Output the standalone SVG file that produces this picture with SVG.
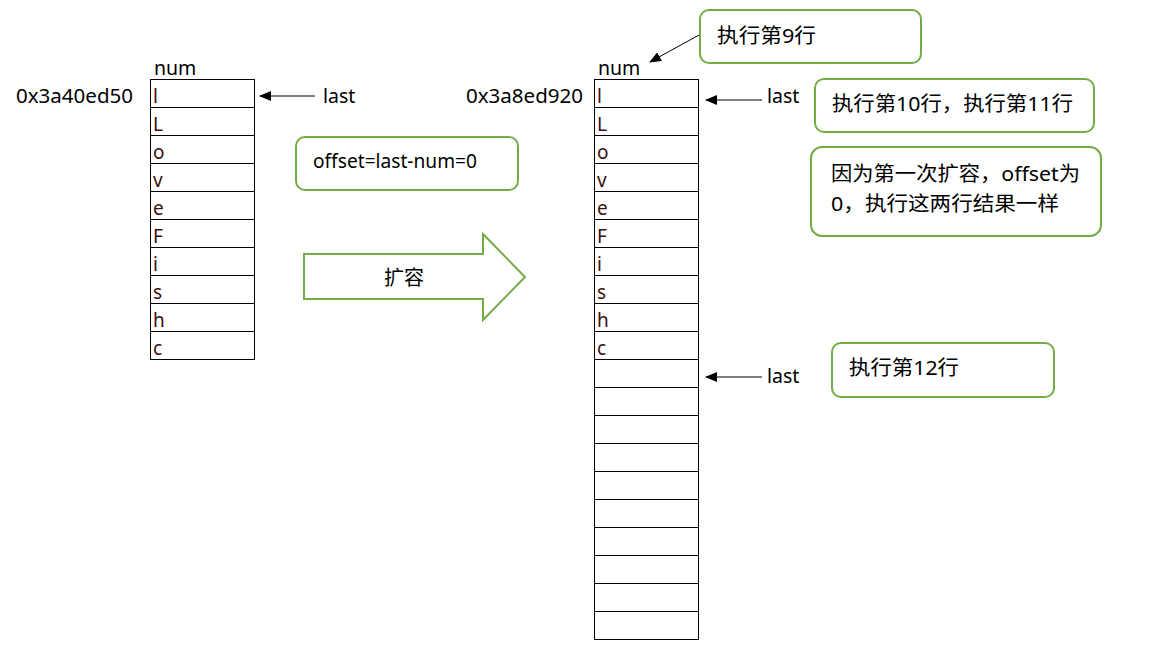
<svg xmlns="http://www.w3.org/2000/svg" width="1166" height="658" viewBox="0 0 1166 658">
<defs>
<marker id="ah" markerWidth="12" markerHeight="10" refX="11" refY="5" orient="auto" markerUnits="userSpaceOnUse">
<path d="M0,0 L12,5 L0,10 Z" fill="#000"/>
</marker>
<style>
text{font-family:"Noto Sans","Noto Sans CJK SC",sans-serif;fill:#000}
.lbl{font-size:19.5px}
.cell{fill:#fff;stroke:#000;stroke-width:1}
.ch{font-size:19px;fill:#3a1010}
.note{fill:#fff;stroke:#70AD47;stroke-width:2}
.nt{font-size:20px}
.conn{stroke:#000;stroke-width:1;fill:none}
</style>
</defs>
<rect width="1166" height="658" fill="#fff"/>

<g id="left-array">
<text class="lbl" x="154" y="75">num</text>
<text class="lbl" x="16" y="103" textLength="117" lengthAdjust="spacingAndGlyphs">0x3a40ed50</text>
<rect class="cell" x="150.5" y="79.5" width="104" height="28"/>
<rect class="cell" x="150.5" y="107.5" width="104" height="28"/>
<rect class="cell" x="150.5" y="135.5" width="104" height="28"/>
<rect class="cell" x="150.5" y="163.5" width="104" height="28"/>
<rect class="cell" x="150.5" y="191.5" width="104" height="28"/>
<rect class="cell" x="150.5" y="219.5" width="104" height="28"/>
<rect class="cell" x="150.5" y="247.5" width="104" height="28"/>
<rect class="cell" x="150.5" y="275.5" width="104" height="28"/>
<rect class="cell" x="150.5" y="303.5" width="104" height="28"/>
<rect class="cell" x="150.5" y="331.5" width="104" height="28"/>
<text class="ch" x="153" y="103">l</text>
<text class="ch" x="153" y="131">L</text>
<text class="ch" x="153" y="159">o</text>
<text class="ch" x="153" y="187">v</text>
<text class="ch" x="153" y="215">e</text>
<text class="ch" x="153" y="243">F</text>
<text class="ch" x="153" y="271">i</text>
<text class="ch" x="153" y="299">s</text>
<text class="ch" x="153" y="327">h</text>
<text class="ch" x="153" y="355">c</text>
</g>

<g id="left-last">
<text class="lbl" x="323" y="103">last</text>
</g>

<g id="offset-note">
<rect class="note" x="296" y="137" width="222" height="53" rx="9"/>
<text class="nt" x="313" y="168" textLength="164" lengthAdjust="spacingAndGlyphs">offset=last-num=0</text>
</g>

<g id="expand-arrow">
<path d="M304,254 L483,254 L483,234 L525,277 L483,320 L483,299 L304,299 Z" fill="#fff" stroke="#70AD47" stroke-width="2"/>
<text class="nt" x="404" y="285" text-anchor="middle">扩容</text>
</g>

<g id="right-array">
<text class="lbl" x="598" y="75">num</text>
<text class="lbl" x="466" y="103" textLength="117" lengthAdjust="spacingAndGlyphs">0x3a8ed920</text>
<rect class="cell" x="594.5" y="79.5" width="104" height="28"/>
<rect class="cell" x="594.5" y="107.5" width="104" height="28"/>
<rect class="cell" x="594.5" y="135.5" width="104" height="28"/>
<rect class="cell" x="594.5" y="163.5" width="104" height="28"/>
<rect class="cell" x="594.5" y="191.5" width="104" height="28"/>
<rect class="cell" x="594.5" y="219.5" width="104" height="28"/>
<rect class="cell" x="594.5" y="247.5" width="104" height="28"/>
<rect class="cell" x="594.5" y="275.5" width="104" height="28"/>
<rect class="cell" x="594.5" y="303.5" width="104" height="28"/>
<rect class="cell" x="594.5" y="331.5" width="104" height="28"/>
<rect class="cell" x="594.5" y="359.5" width="104" height="28"/>
<rect class="cell" x="594.5" y="387.5" width="104" height="28"/>
<rect class="cell" x="594.5" y="415.5" width="104" height="28"/>
<rect class="cell" x="594.5" y="443.5" width="104" height="28"/>
<rect class="cell" x="594.5" y="471.5" width="104" height="28"/>
<rect class="cell" x="594.5" y="499.5" width="104" height="28"/>
<rect class="cell" x="594.5" y="527.5" width="104" height="28"/>
<rect class="cell" x="594.5" y="555.5" width="104" height="28"/>
<rect class="cell" x="594.5" y="583.5" width="104" height="28"/>
<rect class="cell" x="594.5" y="611.5" width="104" height="28"/>
<text class="ch" x="597" y="103">l</text>
<text class="ch" x="597" y="131">L</text>
<text class="ch" x="597" y="159">o</text>
<text class="ch" x="597" y="187">v</text>
<text class="ch" x="597" y="215">e</text>
<text class="ch" x="597" y="243">F</text>
<text class="ch" x="597" y="271">i</text>
<text class="ch" x="597" y="299">s</text>
<text class="ch" x="597" y="327">h</text>
<text class="ch" x="597" y="355">c</text>
</g>

<g id="right-last-1">
<text class="lbl" x="767" y="103">last</text>
</g>
<g id="right-last-2">
<text class="lbl" x="767" y="383">last</text>
</g>

<g id="note-line9">
<rect class="note" x="700" y="10" width="221" height="53" rx="9"/>
<text class="nt" x="717" y="43" textLength="99" lengthAdjust="spacingAndGlyphs">执行第9行</text>
</g>

<g id="note-line10-11">
<rect class="note" x="815" y="79" width="279" height="53" rx="9"/>
<text class="nt" x="832" y="111" textLength="241" lengthAdjust="spacingAndGlyphs">执行第10行，执行第11行</text>
</g>

<g id="note-explain">
<rect class="note" x="811" y="147" width="290" height="89" rx="11"/>
<text class="nt" x="831" y="181" textLength="249" lengthAdjust="spacingAndGlyphs">因为第一次扩容，offset为</text>
<text class="nt" x="831" y="211" textLength="228" lengthAdjust="spacingAndGlyphs">0，执行这两行结果一样</text>
</g>

<g id="note-line12">
<rect class="note" x="832" y="343" width="222" height="54" rx="9"/>
<text class="nt" x="849" y="375" textLength="110" lengthAdjust="spacingAndGlyphs">执行第12行</text>
</g>

<g id="connectors">
<line class="conn" x1="315" y1="96" x2="260" y2="96" marker-end="url(#ah)"/>
<line class="conn" x1="762" y1="100" x2="706" y2="100" marker-end="url(#ah)"/>
<line class="conn" x1="762" y1="377" x2="706" y2="377" marker-end="url(#ah)"/>
<line class="conn" x1="699" y1="35" x2="650" y2="62" marker-end="url(#ah)"/>
</g>
</svg>
